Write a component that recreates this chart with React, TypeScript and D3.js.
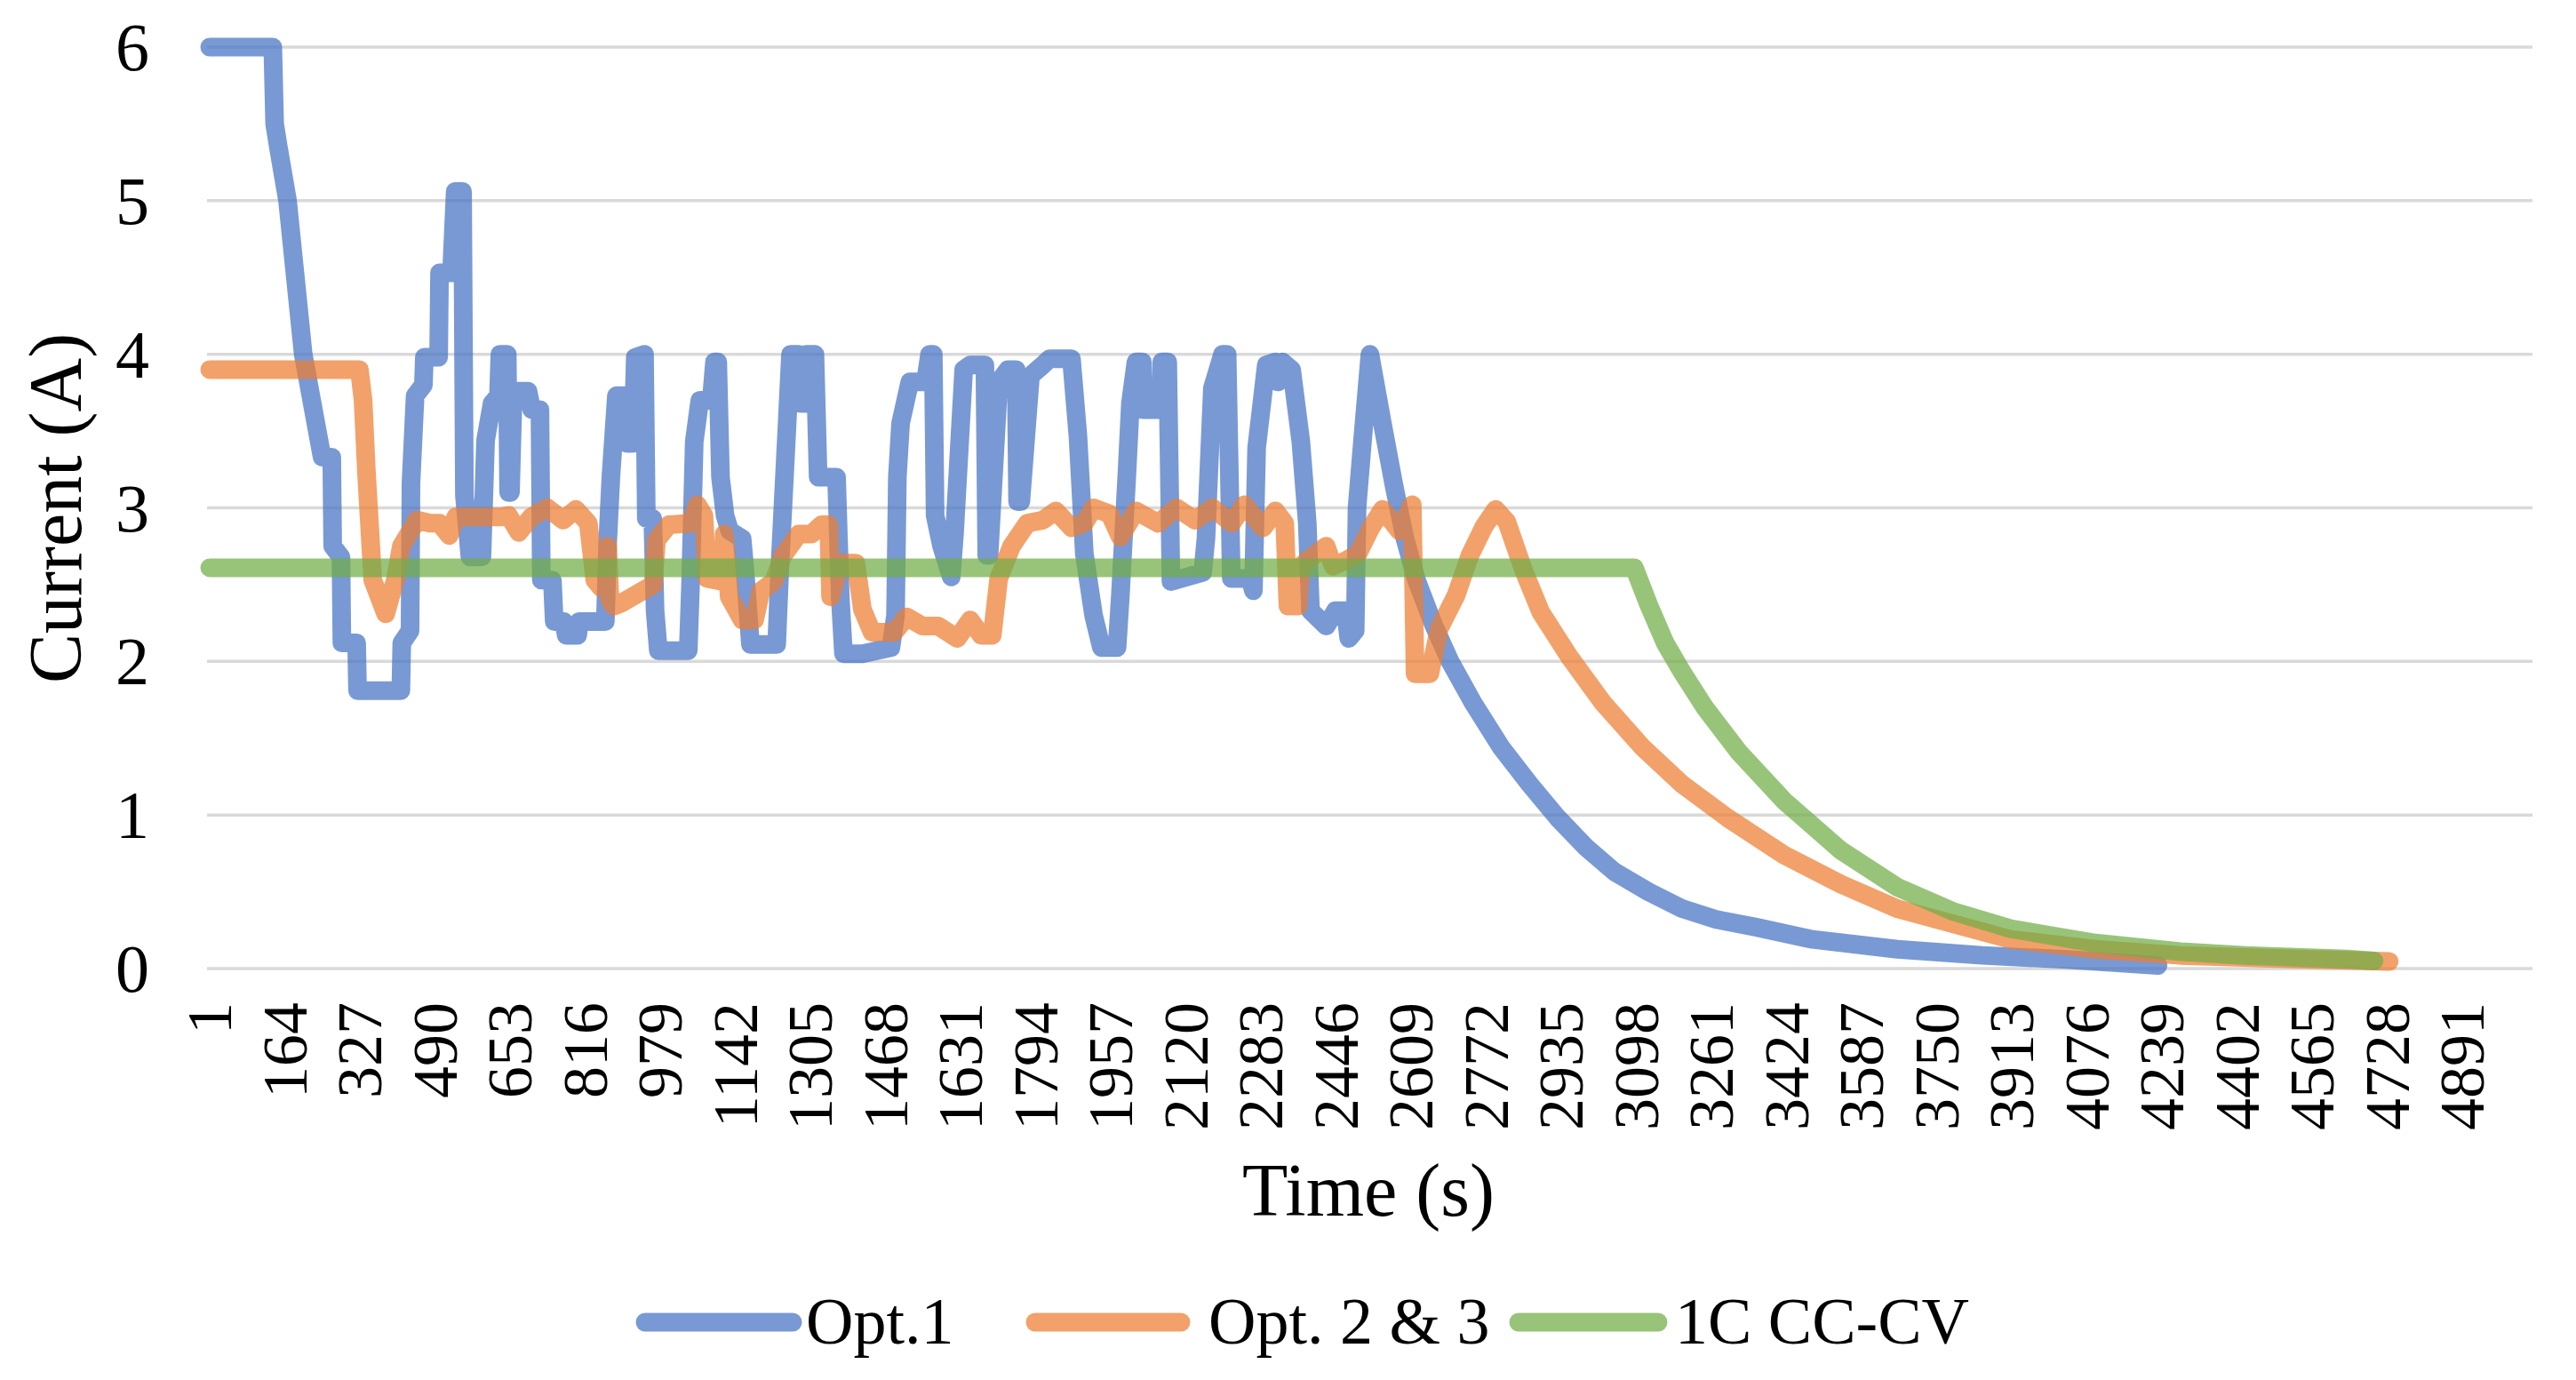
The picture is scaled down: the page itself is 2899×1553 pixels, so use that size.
import * as d3 from "d3";

// time axis labels (Excel category labels, every 163 s)
const timeLabels = [
  "1", "164", "327", "490", "653", "816", "979", "1142", "1305", "1468", "1631",
  "1794", "1957", "2120", "2283", "2446", "2609", "2772", "2935", "3098", "3261",
  "3424", "3587", "3750", "3913", "4076", "4239", "4402", "4565", "4728", "4891",
];
const currentTicks = [0, 1, 2, 3, 4, 5, 6];

// [time (s), current (A)]
const opt1: [number, number][] = [
  [1, 6], [138, 6], [142, 5.5], [150, 5.35], [170, 5.0], [204, 4.0], [245, 3.33], [266, 3.33],
  [268, 2.75], [286, 2.68], [288, 2.12], [320, 2.12], [322, 1.81], [416, 1.81], [418, 2.12],
  [436, 2.2], [438, 3.16], [447, 3.73], [465, 3.8], [467, 3.98], [498, 3.98], [500, 4.53],
  [526, 4.53], [534, 5.06], [550, 5.06], [554, 3.08], [566, 2.68], [592, 2.68], [600, 3.44],
  [614, 3.68], [628, 3.73], [631, 4.0], [647, 4.0], [650, 3.1], [654, 3.1], [660, 3.76],
  [692, 3.76], [700, 3.64], [718, 3.64], [721, 2.53], [745, 2.53], [749, 2.26], [770, 2.26],
  [775, 2.17], [800, 2.17], [803, 2.26], [860, 2.26], [865, 2.77], [872, 3.2], [884, 3.73],
  [905, 3.73], [907, 3.42], [920, 3.42], [925, 3.98], [945, 4.0], [949, 2.93], [963, 2.93],
  [968, 2.33], [975, 2.07], [1040, 2.07], [1045, 2.5], [1053, 3.43], [1065, 3.7], [1090, 3.7],
  [1097, 3.95], [1104, 3.95], [1110, 3.2], [1120, 2.95], [1130, 2.85], [1157, 2.8], [1165, 2.52],
  [1175, 2.11], [1232, 2.11], [1239, 2.62], [1253, 3.45], [1262, 4.0], [1280, 4.0], [1284, 3.68],
  [1292, 3.68], [1296, 4.0], [1315, 4.0], [1322, 3.2], [1362, 3.2], [1370, 2.42], [1377, 2.05],
  [1418, 2.05], [1480, 2.09], [1490, 2.3], [1494, 3.2], [1501, 3.55], [1521, 3.82], [1555, 3.82],
  [1564, 4.0], [1572, 4.0], [1576, 2.95], [1590, 2.75], [1611, 2.55], [1618, 2.83], [1638, 3.9],
  [1652, 3.93], [1684, 3.93], [1688, 2.69], [1693, 2.69], [1714, 3.82], [1734, 3.9], [1752, 3.9],
  [1755, 3.04], [1762, 3.04], [1783, 3.86], [1810, 3.93], [1824, 3.97], [1872, 3.97], [1886, 3.47],
  [1900, 2.7], [1920, 2.3], [1937, 2.09], [1971, 2.09], [1978, 2.42], [1992, 3.2], [2000, 3.68],
  [2012, 3.95], [2026, 3.95], [2028, 3.64], [2066, 3.64], [2068, 3.95], [2081, 3.95], [2088, 2.52],
  [2123, 2.55], [2157, 2.58], [2164, 2.8], [2178, 3.78], [2200, 4.0], [2210, 4.0], [2219, 2.54],
  [2260, 2.54], [2267, 2.46], [2274, 3.39], [2295, 3.93], [2315, 3.95], [2320, 3.82], [2330, 3.95],
  [2350, 3.9], [2370, 3.43], [2384, 2.9], [2391, 2.33], [2425, 2.23], [2445, 2.33], [2467, 2.33],
  [2474, 2.15], [2488, 2.2], [2492, 3.0], [2504, 3.44], [2520, 4.0], [2547, 3.55], [2572, 3.15],
  [2596, 2.8], [2621, 2.53], [2658, 2.24], [2694, 2.0], [2744, 1.73], [2805, 1.44], [2867, 1.2],
  [2928, 0.98], [2989, 0.79], [3051, 0.63], [3125, 0.5], [3198, 0.39], [3272, 0.32], [3358, 0.27],
  [3481, 0.19], [3665, 0.126], [3849, 0.086], [4034, 0.059], [4231, 0.02],
];

const opt23: [number, number][] = [
  [1, 3.9], [326, 3.9], [334, 3.7], [341, 3.25], [355, 2.53], [383, 2.31], [404, 2.53], [417, 2.75],
  [451, 2.92], [479, 2.9], [500, 2.9], [521, 2.82], [535, 2.94], [562, 2.94], [630, 2.94], [650, 2.95],
  [672, 2.84], [699, 2.94], [734, 3.0], [768, 2.92], [796, 2.99], [823, 2.9], [837, 2.53], [851, 2.48],
  [865, 2.75], [870, 2.4], [878, 2.36], [895, 2.38], [964, 2.5], [971, 2.79], [998, 2.89], [1046, 2.9],
  [1060, 3.02], [1074, 2.95], [1081, 2.54], [1115, 2.52], [1118, 2.83], [1122, 2.7], [1129, 2.42],
  [1157, 2.27], [1184, 2.27], [1198, 2.46], [1225, 2.52], [1246, 2.69], [1280, 2.83], [1308, 2.83],
  [1329, 2.89], [1345, 2.89], [1349, 2.42], [1370, 2.64], [1404, 2.64], [1418, 2.34], [1439, 2.19],
  [1487, 2.19], [1514, 2.29], [1549, 2.23], [1583, 2.23], [1624, 2.15], [1652, 2.27], [1676, 2.17],
  [1700, 2.17], [1714, 2.54], [1742, 2.75], [1776, 2.9], [1810, 2.92], [1838, 2.98], [1872, 2.87],
  [1900, 2.9], [1920, 3.0], [1955, 2.96], [1978, 2.81], [2012, 2.98], [2060, 2.9], [2100, 3.0],
  [2140, 2.92], [2178, 3.0], [2220, 2.9], [2247, 3.02], [2288, 2.87], [2315, 2.98], [2335, 2.9],
  [2342, 2.36], [2364, 2.36], [2370, 2.62], [2398, 2.69], [2425, 2.75], [2440, 2.62], [2470, 2.66],
  [2494, 2.7], [2522, 2.87], [2547, 2.99], [2584, 2.85], [2612, 3.02], [2618, 1.92], [2650, 1.92],
  [2670, 2.21], [2707, 2.43], [2737, 2.69], [2768, 2.88], [2793, 2.99], [2817, 2.91], [2854, 2.59],
  [2891, 2.32], [2953, 2.03], [3026, 1.73], [3112, 1.44], [3198, 1.2], [3297, 0.98], [3419, 0.74],
  [3542, 0.55], [3665, 0.39], [3788, 0.29], [3911, 0.19], [4095, 0.126], [4280, 0.086], [4500, 0.065],
  [4733, 0.046],
];

const cccv: [number, number][] = [
  [1, 2.61], [3094, 2.61], [3125, 2.37], [3161, 2.12], [3198, 1.93], [3247, 1.7], [3321, 1.41],
  [3420, 1.09], [3542, 0.77], [3665, 0.53], [3788, 0.37], [3911, 0.26], [4095, 0.166], [4280, 0.11],
  [4420, 0.085], [4641, 0.062], [4700, 0.05],
];

const series = [
  { name: "Opt.1", color: "#4472C4", data: opt1 },
  { name: "Opt. 2 & 3", color: "#ED7D31", data: opt23 },
  { name: "1C CC-CV", color: "#70AD47", data: cccv },
];

const W = 2899, H = 1553;
const left = 233, right = 2850;
const font = "'Liberation Serif', 'Times New Roman', serif";

const x = d3.scaleLinear().domain([1, 5044]).range([236, right]);
const y = d3.scaleLinear().domain([0, 6]).range([1090, 53]);

const line = d3.line<[number, number]>()
  .x(d => x(d[0]))
  .y(d => y(d[1]));

// legend layout: swatch start, swatch end, text start
const legendPos = [[726, 892, 907], [1165, 1329, 1360], [1709, 1866, 1885]];

export default function App() {
  document.body.style.margin = "0";
  return (
    <svg width={W} height={H} style={{ display: "block", background: "#fff" }} fontFamily={font}>
      {currentTicks.map(t => (
        <g key={t}>
          <line x1={left} x2={right} y1={y(t)} y2={y(t)} stroke="#d9d9d9" strokeWidth={3.5} />
          <text x={168} y={y(t) + 26} fontSize={76} textAnchor="end" fill="#000">{t}</text>
        </g>
      ))}
      {timeLabels.map(l => (
        <text key={l} transform={`translate(${x(+l)},1128) rotate(-90)`} dy="0.34em"
          fontSize={72} textAnchor="end" fill="#000">{l}</text>
      ))}
      {series.map(s => (
        <path key={s.name} d={line(s.data) || ""} fill="none" stroke={s.color} strokeOpacity={0.72}
          strokeWidth={21} strokeLinejoin="round" strokeLinecap="round" />
      ))}
      <text transform={`translate(64,572) rotate(-90)`} dy="0.32em" fontSize={84} textAnchor="middle">Current (A)</text>
      <text x={1540} y={1368} fontSize={84} textAnchor="middle">Time (s)</text>
      {series.map((s, i) => (
        <g key={s.name}>
          <line x1={legendPos[i][0]} x2={legendPos[i][1]} y1={1488} y2={1488} stroke={s.color}
            strokeOpacity={0.72} strokeWidth={21} strokeLinecap="round" />
          <text x={legendPos[i][2]} y={1512} fontSize={74}>{s.name}</text>
        </g>
      ))}
    </svg>
  );
}
